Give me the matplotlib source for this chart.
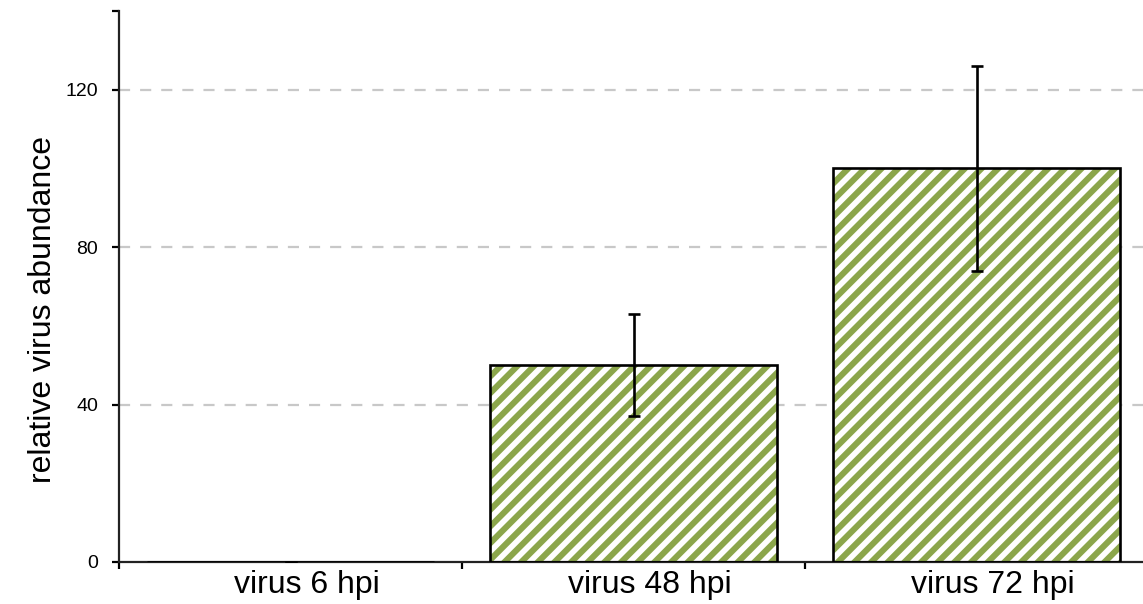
import matplotlib
matplotlib.use("Agg")
import matplotlib.pyplot as plt
import matplotlib.transforms as mtransforms

# данные
categories = ["virus 6 hpi", "virus 48 hpi", "virus 72 hpi"]
values = [0, 50, 100]
errors = [0, 13, 26]
y_ticks = [0, 40, 80, 120, 140]
y_tick_labels = ["0", "40", "80", "120", ""]

green = "#8ba64b"

plt.rcParams["font.family"] = ["Liberation Sans", "DejaVu Sans"]
plt.rcParams["hatch.linewidth"] = 4.4

fig = plt.figure(figsize=(11.43, 6.04), dpi=100)
ax = fig.add_axes([119 / 1143, 42 / 604, 1029 / 1143, 551 / 604])

x = list(range(len(categories)))

# сетка
for yv in y_ticks[1:-1]:
    ax.axhline(yv, color="#c8c8c8", lw=1.6, dashes=(5, 4.5), zorder=0)

# штриховка и рамка отдельно
ax.bar(x, values, width=0.835, color="white", edgecolor=green, hatch="//",
       lw=0, zorder=2)
ax.bar(x, values, width=0.835, fill=False, edgecolor="black", lw=1.9,
       zorder=3)
ax.errorbar(x, values, yerr=errors, fmt="none", ecolor="black",
            elinewidth=1.9, capsize=4, capthick=1.9, zorder=4)

ax.set_xlim(-0.5, 2.5)
ax.set_ylim(0, 140)
ax.set_yticks(y_ticks)
ax.set_yticklabels(y_tick_labels)
ax.set_xticks(x)
ax.set_xticklabels(categories, fontsize=23)
ax.set_xticks([-0.5, 0.5, 1.5, 2.5], minor=True)
ax.tick_params(axis="x", which="major", length=0, pad=6)
ax.tick_params(axis="x", which="minor", length=5, width=1.6, direction="out")
ax.tick_params(axis="y", length=5, width=1.6, direction="out", pad=10,
               labelsize=14)

# подписи категорий немного сдвинуты вправо
shift = mtransforms.ScaledTranslation(0.16, 0, fig.dpi_scale_trans)
for lbl in ax.get_xticklabels():
    lbl.set_transform(lbl.get_transform() + shift)

for s in ["top", "right"]:
    ax.spines[s].set_visible(False)
for s in ["left", "bottom"]:
    ax.spines[s].set_linewidth(1.6)
    ax.spines[s].set_color("#222222")

ax.set_ylabel("relative virus abundance", fontsize=23)
ax.yaxis.set_label_coords(-0.059, 0.459)

fig.savefig("out.png", dpi=100)
